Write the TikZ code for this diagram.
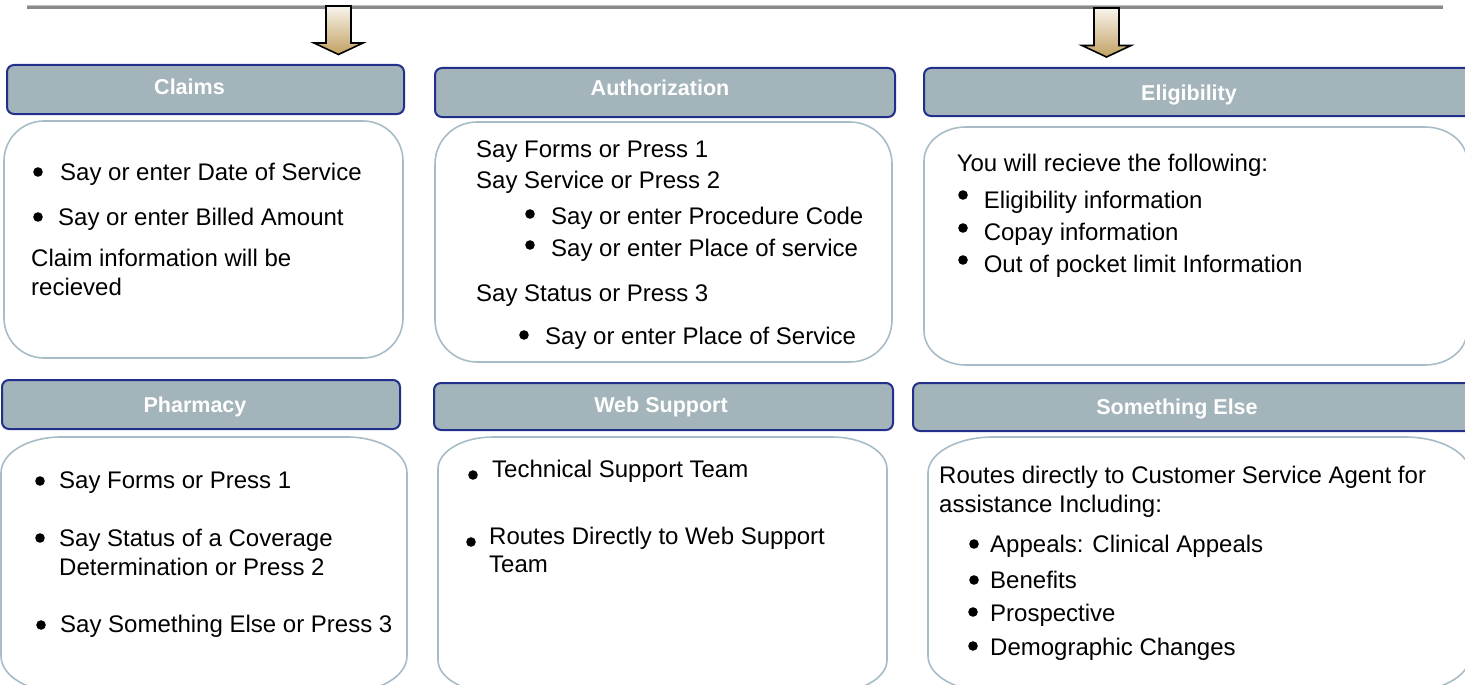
\documentclass[tikz,border=0pt]{standalone}
\usepackage{fontspec}
\setmainfont{Liberation Sans}
\usetikzlibrary{calc}
\definecolor{hdrfill}{HTML}{A3B4BA}
\definecolor{hdrline}{HTML}{22308C}
\definecolor{boxline}{HTML}{A8BCC7}
\definecolor{rulegray}{HTML}{8A8A8A}
\definecolor{rulelight}{HTML}{BEBEBE}
\definecolor{arrtop}{HTML}{F8F4EC}
\definecolor{arrbot}{HTML}{C2A062}
\tikzset{
  hdr/.style={draw=hdrline, line width=2pt, fill=hdrfill, rounded corners=7pt, inner sep=0pt, anchor=north west},
  hdrtext/.style={text=white, font=\fontsize{21.5}{26}\selectfont\bfseries, inner sep=0pt, anchor=base},
  body/.style={font=\fontsize{24}{29}\selectfont, inner sep=0pt, anchor=base west},
  bul/.style={circle, fill=black, inner sep=0pt, minimum size=9.6pt},
  cbox/.style={draw=boxline, line width=1.6pt, fill=white},
  downarrow/.style={draw=black, line width=1.6pt, top color=arrtop, bottom color=arrbot, line join=miter},
}
\newcommand\ebox[6]{%
  \draw[cbox] (#1+#5,-#2) -- (#3-#5,-#2)
    arc[start angle=90,end angle=0,x radius=#5pt,y radius=#6pt]
    -- (#3,-#4+#6)
    arc[start angle=0,end angle=-90,x radius=#5pt,y radius=#6pt]
    -- (#1+#5,-#4)
    arc[start angle=270,end angle=180,x radius=#5pt,y radius=#6pt]
    -- (#1,-#2-#6)
    arc[start angle=180,end angle=90,x radius=#5pt,y radius=#6pt]
    -- cycle;}
\newcommand\dnarrow[2]{%
  \draw[downarrow] ($(#1)+(-12.5,0)$) -- ($(#1)+(12.5,0)$) -- ($(#2)+(12.5,11.5)$)
    -- ($(#2)+(24.5,11.5)$) -- (#2) -- ($(#2)+(-24.5,11.5)$) -- ($(#2)+(-12.5,11.5)$) -- cycle;}
\begin{document}
\begin{tikzpicture}[x=1pt,y=1pt]
\useasboundingbox (0,0) rectangle (1465,-685);
\clip (0,0) rectangle (1465,-685);
% top rule
\coordinate (ruleL) at (27,-6.8);
\coordinate (ruleR) at (1443,-6.8);
\draw[rulegray, line width=3.6pt] (ruleL) -- (ruleR);
\draw[rulelight, line width=0.8pt] ($(ruleL)+(0,1.6)$) -- ($(ruleR)+(0,1.6)$);
% arrows
\coordinate (a1s) at (338.5,-6);
\coordinate (a1e) at (338.5,-54.5);
\coordinate (a2s) at (1106.5,-8);
\coordinate (a2e) at (1106.5,-57);
\dnarrow{a1s}{a1e}
\dnarrow{a2s}{a2e}
% header bars
\node[hdr, minimum width=397pt, minimum height=49pt] (claimsH) at (6,-64) {};
\node[hdr, minimum width=460pt, minimum height=49pt] (authH) at (434,-67) {};
\node[hdr, minimum width=550pt, minimum height=48pt] (eligH) at (923,-67) {};
\node[hdr, minimum width=398pt, minimum height=49pt] (pharmH) at (1,-379) {};
\node[hdr, minimum width=459pt, minimum height=47pt] (webH) at (433,-382) {};
\node[hdr, minimum width=560pt, minimum height=48pt] (elseH) at (912,-382) {};
\node[hdrtext] (claimsT) at (189.5,-94.7) {Claims};
\node[hdrtext] (authT) at (660,-95.7) {Authorization};
\node[hdrtext] (eligT) at (1189,-100.7) {Eligibility};
\node[hdrtext] (pharmT) at (195,-412.7) {Pharmacy};
\node[hdrtext] (webT) at (661,-412.7) {Web Support};
\node[hdrtext] (elseT) at (1177,-414.7) {Something Else};
% content boxes
\ebox{4}{121}{403}{358}{40}{40}
\ebox{435}{122}{892}{362}{42}{42}
\ebox{924}{127}{1467}{365}{42}{34}
\ebox{1}{437}{407}{692}{60}{36}
\ebox{438}{437}{887}{692}{55}{32}
\ebox{928}{437}{1470}{692}{65}{36}
% Claims
\node[bul] (cb1) at (38,-172) {};
\node[bul] (cb2) at (38,-217) {};
\node[body] (c1) at (60,-180.5) {Say or enter Date of Service};
\node[body] (c2) at (58,-225.5) {Say or enter Billed Amount};
\node[body] (c3) at (31,-266.5) {Claim information will be};
\node[body] (c4) at (31,-295.5) {recieved};
% Authorization
\node[body] (u1) at (476,-157.5) {Say Forms or Press 1};
\node[body] (u2) at (476,-188.5) {Say Service or Press 2};
\node[bul] (ub1) at (530,-214) {};
\node[body] (u3) at (551,-224.5) {Say or enter Procedure Code};
\node[bul] (ub2) at (530,-245) {};
\node[body] (u4) at (551,-256.5) {Say or enter Place of service};
\node[body] (u5) at (476,-301.5) {Say Status or Press 3};
\node[bul] (ub3) at (524,-335) {};
\node[body] (u6) at (545,-344.5) {Say or enter Place of Service};
% Eligibility
\node[body] (e1) at (956.6,-171.5) {You will recieve the following:};
\node[bul] (eb1) at (963,-195) {};
\node[body] (e2) at (983.6,-208.5) {Eligibility information};
\node[bul] (eb2) at (963,-228) {};
\node[body] (e3) at (983.6,-240.5) {Copay information};
\node[bul] (eb3) at (963,-260) {};
\node[body] (e4) at (983.6,-272.5) {Out of pocket limit Information};
% Pharmacy
\node[bul] (pb1) at (40,-481) {};
\node[body] (p1) at (59,-488.5) {Say Forms or Press 1};
\node[bul] (pb2) at (40,-538) {};
\node[body] (p2) at (59,-546.5) {Say Status of a Coverage};
\node[body] (p3) at (59,-575.5) {Determination or Press 2};
\node[bul] (pb3) at (41,-625) {};
\node[body] (p4) at (60,-632.5) {Say Something Else or Press 3};
% Web Support
\node[bul] (wb1) at (473,-475) {};
\node[body] (w1) at (492,-477.5) {Technical Support Team};
\node[bul] (wb2) at (471,-542) {};
\node[body] (w2) at (489,-544.5) {Routes Directly to Web Support};
\node[body] (w3) at (489,-572.5) {Team};
% Something Else
\node[body] (s1) at (939,-483.5) {Routes directly to Customer Service Agent for};
\node[body] (s2) at (939,-512.5) {assistance Including:};
\node[bul] (sb1) at (974,-544) {};
\node[body] (s3) at (990,-552.5) {Appeals: Clinical Appeals};
\node[bul] (sb2) at (974,-580) {};
\node[body] (s4) at (990,-588.5) {Benefits};
\node[bul] (sb3) at (973,-612) {};
\node[body] (s5) at (990,-621.5) {Prospective};
\node[bul] (sb4) at (973,-646) {};
\node[body] (s6) at (990,-655.5) {Demographic Changes};
\end{tikzpicture}
\end{document}
